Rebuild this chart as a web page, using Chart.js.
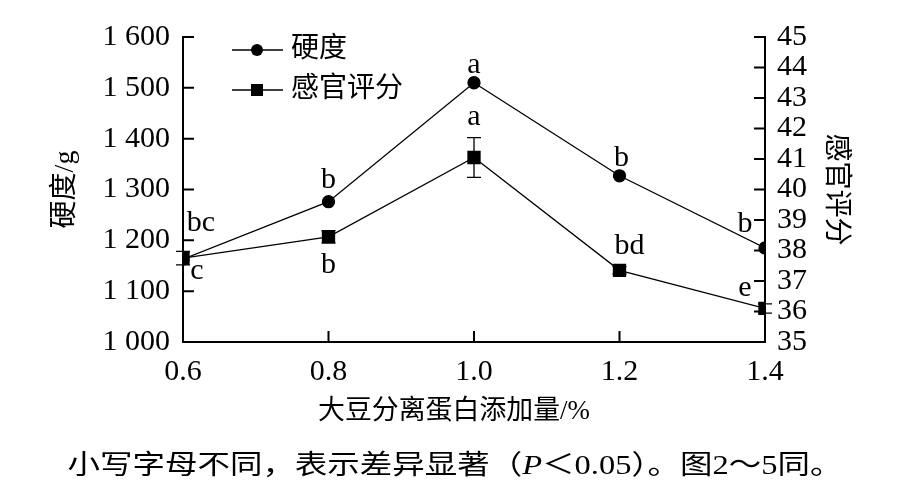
<!DOCTYPE html>
<html>
<head>
<meta charset="utf-8">
<script src="https://cdn.jsdelivr.net/npm/chart.js@4/dist/chart.umd.min.js"></script>
<style>
  html, body { margin: 0; padding: 0; background: #fff; }
  #wrap { width: 905px; height: 492px; }
</style>
</head>
<body>
<div id="wrap"><canvas id="grafico" width="905" height="492"></canvas></div>
<script>
// dados
const doses = [0.6, 0.8, 1.0, 1.2, 1.4];
const dureza = [1163, 1276, 1510, 1327, 1185];
const sensorial = [37.75, 38.45, 41.05, 37.35, 36.1];
const sensorialErro = [0.22, 0.2, 0.65, 0.12, 0.15];
const letrasDureza = ['bc', 'b', 'a', 'b', 'b'];
const letrasSensorial = ['c', 'b', 'a', 'bd', 'e'];
const rotulos = ['硬度', '感官评分'];
const tituloX = '大豆分离蛋白添加量/%';
const tituloY1 = '硬度/g';
const tituloY2 = '感官评分';
const nota = ['小写字母不同，表示差异显著（', 'P', '＜0.05）。图2～5同。'];

const FONTE = '"Liberation Serif", "Noto Sans CJK SC", serif';
Chart.defaults.color = '#000';
Chart.defaults.font.family = FONTE;

// deslocamentos das letras (px) relativos ao ponto
const offDureza = [[18, -36], [0, -22], [0, -18], [2, -18], [-20, -24]];
const offSensorial = [[14, 13], [0, 28], [0, -40], [10, -24], [-20, -20]];

// texto esticado na horizontal até a largura pedida
function textoLargo(ctx, partes, cx, cy, largura) {
    const fontes = partes.map(p => (p === 'P' ? 'italic ' : '') + '27px ' + FONTE);
    let total = 0;
    const ws = partes.map((p, i) => { ctx.font = fontes[i]; const w = ctx.measureText(p).width; total += w; return w; });
    const sx = largura / total;
    ctx.save();
    ctx.translate(cx - largura / 2, cy);
    ctx.scale(sx, 1);
    ctx.textAlign = 'left';
    ctx.textBaseline = 'middle';
    let xx = 0;
    partes.forEach((p, i) => { ctx.font = fontes[i]; ctx.fillText(p, xx, 0); xx += ws[i]; });
    ctx.restore();
}

const extras = {
    id: 'extras',
    beforeDatasetsDraw(chart) {
        const ctx = chart.ctx;
        const x = chart.scales.x, y2 = chart.scales.y2;
        ctx.save();
        ctx.strokeStyle = '#000';
        ctx.lineWidth = 1.3;
        doses.forEach((d, i) => {
            const px = x.getPixelForValue(d);
            const top = y2.getPixelForValue(sensorial[i] + sensorialErro[i]);
            const bot = y2.getPixelForValue(sensorial[i] - sensorialErro[i]);
            ctx.beginPath();
            ctx.moveTo(px, top); ctx.lineTo(px, bot);
            ctx.moveTo(px - 7, top); ctx.lineTo(px + 7, top);
            ctx.moveTo(px - 7, bot); ctx.lineTo(px + 7, bot);
            ctx.stroke();
        });
        ctx.restore();
    },
    afterDraw(chart) {
        const ctx = chart.ctx;
        const {x, y, y2} = chart.scales;
        const area = chart.chartArea;
        ctx.save();
        ctx.strokeStyle = '#000';
        ctx.lineWidth = 2;
        // marcas para dentro
        ctx.beginPath();
        y.ticks.forEach(t => {
            const py = y.getPixelForValue(t.value);
            ctx.moveTo(area.left, py); ctx.lineTo(area.left + 11, py);
        });
        y2.ticks.forEach(t => {
            const py = y2.getPixelForValue(t.value);
            ctx.moveTo(area.right, py); ctx.lineTo(area.right - 11, py);
        });
        x.ticks.forEach(t => {
            const px = x.getPixelForValue(t.value);
            ctx.moveTo(px, area.bottom); ctx.lineTo(px, area.bottom - 11);
        });
        ctx.stroke();

        // letras de significância
        ctx.fillStyle = '#000';
        ctx.font = '30px ' + FONTE;
        ctx.textAlign = 'center';
        ctx.textBaseline = 'middle';
        doses.forEach((d, i) => {
            const px = x.getPixelForValue(d);
            ctx.fillText(letrasDureza[i], px + offDureza[i][0], y.getPixelForValue(dureza[i]) + offDureza[i][1]);
            ctx.fillText(letrasSensorial[i], px + offSensorial[i][0], y2.getPixelForValue(sensorial[i]) + offSensorial[i][1]);
        });

        // legenda manual
        chart.data.datasets.forEach((ds, i) => {
            const ly = 50 + i * 40;
            ctx.lineWidth = 1.3;
            ctx.beginPath();
            ctx.moveTo(232, ly); ctx.lineTo(283, ly);
            ctx.stroke();
            if (ds.pointStyle === 'rect') {
                ctx.fillRect(251, ly - 6, 12, 12);
            } else {
                ctx.beginPath();
                ctx.arc(257, ly, 6, 0, Math.PI * 2);
                ctx.fill();
            }
            ctx.textAlign = 'left';
            ctx.font = '28px ' + FONTE;
            ctx.fillText(ds.label, 291, ly);
        });

        // título do eixo x e nota de rodapé
        textoLargo(ctx, [tituloX], 454, 412, 272);
        textoLargo(ctx, nota, 455, 467, 775);
        ctx.restore();
    }
};

new Chart(document.getElementById('grafico'), {
    type: 'line',
    data: {
        datasets: [{
            label: rotulos[0],
            data: doses.map((d, i) => ({x: d, y: dureza[i]})),
            yAxisID: 'y',
            borderColor: '#000',
            backgroundColor: '#000',
            borderWidth: 1.3,
            pointStyle: 'circle',
            pointRadius: 6,
            tension: 0
        }, {
            label: rotulos[1],
            data: doses.map((d, i) => ({x: d, y: sensorial[i]})),
            yAxisID: 'y2',
            borderColor: '#000',
            backgroundColor: '#000',
            borderWidth: 1.3,
            pointStyle: 'rect',
            pointRadius: 8.5,
            tension: 0
        }]
    },
    options: {
        responsive: false,
        animation: false,
        layout: { padding: { top: 37, bottom: 50, left: 0, right: 0 } },
        plugins: { legend: { display: false }, tooltip: { enabled: false } },
        scales: {
            x: {
                type: 'linear',
                min: 0.6, max: 1.4,
                grid: { display: false },
                border: { display: true, color: '#000', width: 2 },
                ticks: { stepSize: 0.2, padding: 4, font: { size: 30 }, callback: v => v.toFixed(1) },
                afterFit: s => { s.height = 100; }
            },
            y: {
                position: 'left',
                min: 1000, max: 1600,
                grid: { display: false },
                border: { display: true, color: '#000', width: 2 },
                ticks: {
                    stepSize: 100, padding: 5, font: { size: 30 },
                    callback: v => '1 ' + String(v - 1000).padStart(3, '0')
                },
                title: { display: true, text: tituloY1, font: { size: 28 }, padding: { top: 49, bottom: 0 } },
                afterFit: s => { s.width = 183; }
            },
            y2: {
                position: 'right',
                min: 35, max: 45,
                grid: { display: false },
                border: { display: true, color: '#000', width: 2 },
                ticks: { stepSize: 1, padding: 4, autoSkip: false, font: { size: 30 } },
                title: { display: true, text: tituloY2, font: { size: 28 }, padding: { top: 53, bottom: 0 } },
                afterFit: s => { s.width = 140; }
            }
        }
    },
    plugins: [extras]
});
</script>
</body>
</html>
